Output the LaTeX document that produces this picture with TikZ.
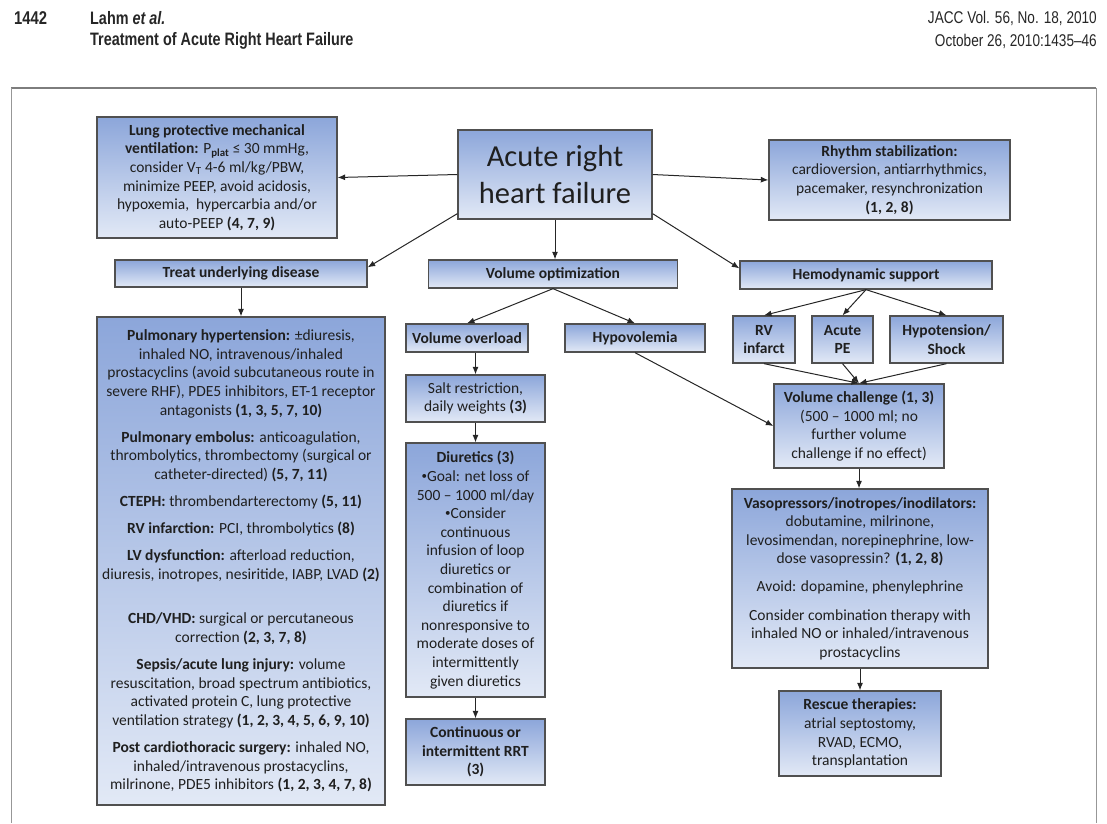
\documentclass[tikz,border=0pt]{standalone}
\usepackage{fontspec}
\setmainfont{Carlito}
\newfontfamily\hdrfont[FakeStretch=0.8]{Liberation Sans}
\usetikzlibrary{arrows.meta}
\definecolor{boxtop}{RGB}{140,166,218}
\definecolor{boxbot}{RGB}{226,233,246}
\definecolor{boxline}{RGB}{80,80,80}
\definecolor{framegray}{RGB}{125,125,125}
\newcommand{\bul}{\raisebox{2pt}{\fontsize{11}{11}\selectfont•}}

\begin{document}
\begin{tikzpicture}[x=1pt,y=-1pt,
  box/.style={draw=boxline,line width=1.3pt,top color=boxtop,bottom color=boxbot,inner sep=0pt,align=center,text=black!88,font=\fontsize{15.5}{18.6}\selectfont},
  lbl/.style={box,font=\fontsize{15.5}{18.6}\selectfont\bfseries},
  hdr/.style={inner sep=0pt,text=black!85,font=\hdrfont\fontsize{17}{20}\selectfont},
  arr/.style={-{Latex[length=7.5pt,width=6pt]},line width=1pt,black!85}]
\useasboundingbox (0,0) rectangle (1107,823);
\draw[framegray,line width=2.2pt] (11,88) -- (1096,88);
\draw[framegray!80,line width=1pt] (11,88) -- (11,823);
\draw[framegray!80,line width=1pt] (1096,88) -- (1096,823);

\node[hdr,anchor=west,font=\hdrfont\fontsize{18.5}{20}\selectfont] at (14,18) (page) {\textbf{1442}};
\node[hdr,anchor=west,font=\hdrfont\fontsize{18}{20}\selectfont] at (90,18) (author) {\textbf{Lahm \textit{et al.}}};
\node[hdr,anchor=west,font=\hdrfont\fontsize{18}{20}\selectfont] at (90,41) (title) {\textbf{Treatment of Acute Right Heart Failure}};
\node[hdr,anchor=east] at (1097,18) (journal) {JACC Vol. 56, No. 18, 2010};
\node[hdr,anchor=east] at (1097,41) (issue) {October 26, 2010:1435–46};

\node[box,minimum width=194pt,minimum height=89pt,font=\fontsize{30.5}{37}\selectfont] at (555,174.5) (arhf) {Acute right\\heart failure};
\node[box,minimum width=240pt,minimum height=121pt] at (217,177.5) (lung) {\textbf{Lung protective mechanical}\\
\textbf{ventilation:} P\textsubscript{\textbf{plat}} ≤ 30 mmHg,\\
consider V\textsubscript{T} 4-6 ml/kg/PBW,\\
minimize PEEP, avoid acidosis,\\
hypoxemia,\ \ hypercarbia and/or\\
auto-PEEP \textbf{(4, 7, 9)}};
\node[box,minimum width=241pt,minimum height=80pt] at (889.5,180) (rhythm) {\textbf{Rhythm stabilization:}\\
cardioversion, antiarrhythmics,\\
pacemaker, resynchronization\\
\textbf{(1, 2, 8)}};

\node[lbl,minimum width=252pt,minimum height=27pt] at (241,273.5) (treat) {Treat underlying disease};
\node[lbl,minimum width=249pt,minimum height=28pt] at (553,274) (volopt) {Volume optimization};
\node[lbl,minimum width=252pt,minimum height=28pt] at (866,275) (hemo) {Hemodynamic support};

\node[box,minimum width=288pt,minimum height=488pt] at (241,561) (disease) {\textbf{Pulmonary hypertension:} ±diuresis,\\
inhaled NO, intravenous/inhaled\\
prostacyclins (avoid subcutaneous route in\\
severe RHF), PDE5 inhibitors, ET-1 receptor\\
antagonists \textbf{(1, 3, 5, 7, 10)}\\[8.5pt]
\textbf{Pulmonary embolus:} anticoagulation,\\
thrombolytics, thrombectomy (surgical or\\
catheter-directed) \textbf{(5, 7, 11)}\\[8.5pt]
\textbf{CTEPH:} thrombendarterectomy \textbf{(5, 11)}\\[8.5pt]
\textbf{RV infarction:} PCI, thrombolytics \textbf{(8)}\\[8.5pt]
\textbf{LV dysfunction:} afterload reduction,\\
diuresis, inotropes, nesiritide, IABP, LVAD \textbf{(2)}\\[26pt]
\textbf{CHD/VHD:} surgical or percutaneous\\
correction \textbf{(2, 3, 7, 8)}\\[8.5pt]
\textbf{Sepsis/acute lung injury:} volume\\
resuscitation, broad spectrum antibiotics,\\
activated protein C, lung protective\\
ventilation strategy \textbf{(1, 2, 3, 4, 5, 6, 9, 10)}\\[8.5pt]
\textbf{Post cardiothoracic surgery:} inhaled NO,\\
inhaled/intravenous prostacyclins,\\
milrinone, PDE5 inhibitors \textbf{(1, 2, 3, 4, 7, 8)}};

\node[lbl,minimum width=122pt,minimum height=28pt] at (467,338) (overload) {Volume overload};
\node[lbl,minimum width=140pt,minimum height=28pt] at (635,338) (hypo) {Hypovolemia};
\node[box,minimum width=139pt,minimum height=47pt] at (475.5,398.5) (salt) {Salt restriction,\\daily weights \textbf{(3)}};
\node[box,minimum width=139pt,minimum height=254pt] at (475.5,570) (diuretics) {\textbf{Diuretics (3)}\\
\bul Goal: net loss of\\
500 -- 1000 ml/day\\
\bul Consider\\
continuous\\
infusion of loop\\
diuretics or\\
combination of\\
diuretics if\\
nonresponsive to\\
moderate doses of\\
intermittently\\
given diuretics};
\node[lbl,minimum width=139pt,minimum height=66pt] at (475.5,752) (rrt) {Continuous or\\intermittent RRT\\(3)};

\node[lbl,minimum width=62pt,minimum height=47pt] at (764,339.5) (rvinf) {RV\\infarct};
\node[lbl,minimum width=61pt,minimum height=47pt] at (842.5,339.5) (acutepe) {Acute\\PE};
\node[lbl,minimum width=113pt,minimum height=47pt] at (946.5,339.5) (hypot) {Hypotension/\\Shock};
\node[box,minimum width=170pt,minimum height=84pt] at (859,426) (volch) {\textbf{Volume challenge (1, 3)}\\
(500 -- 1000 ml; no\\
further volume\\
challenge if no effect)};
\node[box,minimum width=256pt,minimum height=179pt] at (860,578.5) (vaso) {\textbf{Vasopressors/inotropes/inodilators:}\\
dobutamine, milrinone,\\
levosimendan, norepinephrine, low-\\
dose vasopressin? \textbf{(1, 2, 8)}\\[9pt]
Avoid: dopamine, phenylephrine\\[10pt]
Consider combination therapy with\\
inhaled NO or inhaled/intravenous\\
prostacyclins};
\node[box,minimum width=162pt,minimum height=85pt] at (860,733.5) (rescue) {\textbf{Rescue therapies:}\\
atrial septostomy,\\
RVAD, ECMO,\\
transplantation};

\draw[arr] (arhf.west) -- (lung.east);
\draw[arr] (arhf.east) -- (rhythm.west);
\draw[arr] ([yshift=6pt]arhf.south west) -- ([yshift=-8pt]treat.north east);
\draw[arr] ([yshift=6pt]arhf.south east) -- ([yshift=-8pt]hemo.north west);
\draw[arr] (arhf.south) -- (arhf.south |- volopt.north);
\draw[arr] (treat.south) -- (disease.north);
\draw[arr] (volopt.south) -- (overload.north);
\draw[arr] (volopt.south) -- (hypo.north);
\draw[arr] (salt.north |- overload.south) -- (salt.north);
\draw[arr] (salt.south) -- (diuretics.north);
\draw[arr] (diuretics.south) -- (rrt.north);
\draw[arr] (hemo.south) -- (rvinf.north);
\draw[arr] (hemo.south) -- (acutepe.north);
\draw[arr] (hemo.south) -- (hypot.north);
\draw[arr] (rvinf.south) -- (volch.north);
\draw[arr] (acutepe.south) -- (volch.north);
\draw[arr] (hypot.south) -- (volch.north);
\draw[arr] (hypo.south) -- (volch.west);
\draw[arr] (volch.south) -- (volch.south |- vaso.north);
\draw[arr] (vaso.south) -- (rescue.north);
\end{tikzpicture}
\end{document}
